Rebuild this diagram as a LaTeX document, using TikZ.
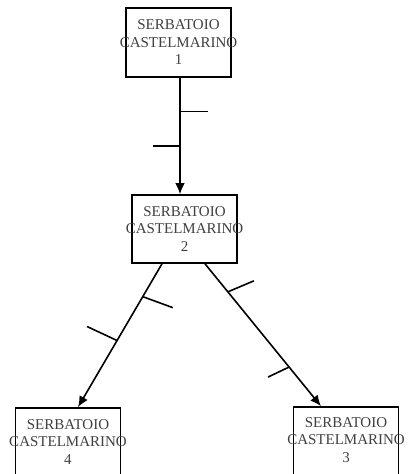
\documentclass[tikz,border=0pt]{standalone}
\usepackage{fontspec}
\setmainfont{Liberation Serif}
\usetikzlibrary{arrows.meta}
\begin{document}
\begin{tikzpicture}[x=1pt,y=-1pt,
  tank/.style={draw=black, line width=1.6pt, minimum width=105pt, minimum height=68pt, inner sep=0pt},
  tanktext/.style={text=black!75, font=\fontsize{15}{17.5}\selectfont, align=center, inner sep=0pt},
  flow/.style={draw=black, line width=1.6pt, -{Latex[length=11pt,width=9.5pt]}},
  tick/.style={draw=black, line width=1.6pt}]
\useasboundingbox (0,0) rectangle (410,474);
\node[tank, minimum height=69pt] (b1) at (178.5,42.5) {};
\node[tanktext] (t1) at (b1) {SERBATOIO\\CASTELMARINO\\1};
\node[tank] (b2) at (184.5,229) {};
\node[tanktext] (t2) at (b2) {SERBATOIO\\CASTELMARINO\\2};
\node[tank] (b4) at (68,442) {};
\node[tanktext] (t4) at (b4) {SERBATOIO\\CASTELMARINO\\4};
\node[tank] (b3) at (346,441) {};
\node[tanktext] (t3) at (346,440) {SERBATOIO\\CASTELMARINO\\3};
% edges
\draw[flow] ([xshift=1.5pt]b1.south) -- coordinate[pos=0.288] (p1) coordinate[pos=0.585] (p2) ([xshift=-4.5pt]b2.north);
\draw[flow] ([xshift=-22.5pt]b2.south) -- coordinate[pos=0.229] (p3) coordinate[pos=0.535] (p4) ([xshift=10pt]b4.north);
\draw[flow] ([xshift=20.5pt]b2.south) -- coordinate[pos=0.197] (p5) coordinate[pos=0.725] (p6) ([xshift=-25pt]b3.north);
% ticks
\draw[tick] (p1) -- ++(28,0);
\draw[tick] (p2) -- ++(-27,0);
\draw[tick] (p3) -- ++(30,11);
\draw[tick] (p4) -- ++(-30,-14);
\draw[tick] (p5) -- ++(26,-11);
\draw[tick] (p6) -- ++(-21,10);
\end{tikzpicture}
\end{document}
